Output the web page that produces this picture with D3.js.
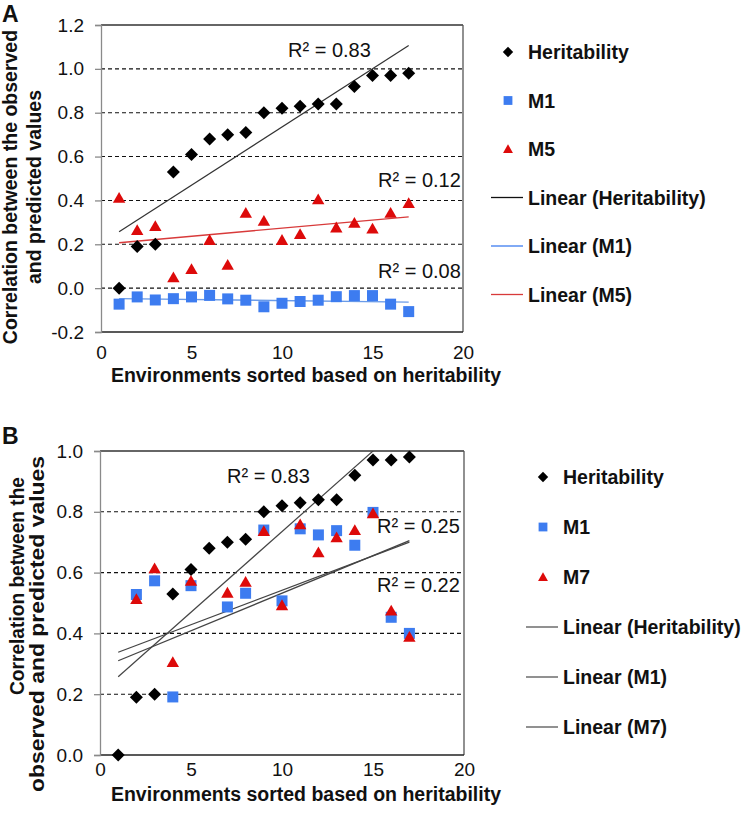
<!DOCTYPE html>
<html><head><meta charset="utf-8">
<script src="https://cdn.jsdelivr.net/npm/d3@7"></script>
<style>body{margin:0;background:#fff} svg{display:block;font-family:"Liberation Sans",Arial,sans-serif}</style>
</head><body><svg id="c" width="746" height="814"></svg>
<script>
// ---------- data ----------
const environments = d3.range(1, 18);
const heritability = [0.00,0.19,0.20,0.53,0.61,0.68,0.70,0.71,0.80,0.82,0.83,0.84,0.84,0.92,0.97,0.97,0.98];
const m1A = [-0.073,-0.040,-0.054,-0.048,-0.040,-0.033,-0.049,-0.055,-0.085,-0.069,-0.061,-0.055,-0.039,-0.034,-0.034,-0.073,-0.107];
const m5A = [0.412,0.265,0.283,0.050,0.087,0.220,0.107,0.344,0.307,0.220,0.247,0.405,0.277,0.298,0.272,0.344,0.388];
const m1B = [null,0.528,0.573,0.191,0.557,null,0.487,0.532,0.740,0.507,0.744,0.724,0.738,0.690,0.798,0.453,0.400];
const m7B = [null,0.513,0.614,0.306,0.573,null,0.534,0.570,0.737,0.493,0.759,0.667,0.716,0.740,0.795,0.475,0.389];
// fitted trend values at x = 1 and x = 17 (panel B, partly off-scale data)
const trendM1B = [0.310, 0.705];
const trendM7B = [0.338, 0.700];
const r2A = ["R² = 0.83", "R² = 0.12", "R² = 0.08"];
const r2B = ["R² = 0.83", "R² = 0.25", "R² = 0.22"];
const xTicks = [0, 5, 10, 15, 20];
const yTicksA = [-0.2, 0.0, 0.2, 0.4, 0.6, 0.8, 1.0, 1.2];
const yTicksB = [0.0, 0.2, 0.4, 0.6, 0.8, 1.0];
const legendA = ["Heritability", "M1", "M5", "Linear (Heritability)", "Linear (M1)", "Linear (M5)"];
const legendB = ["Heritability", "M1", "M7", "Linear (Heritability)", "Linear (M1)", "Linear (M7)"];
const xTitle = "Environments sorted based on heritability";
const yTitleA = ["Correlation between the observed", "and predicted values"];
const yTitleB = ["Correlation between the", "observed and predicted values"];

// ---------- helpers ----------
const svg = d3.select("#c");
const BLUE = "#3d7cf0", RED = "#dd0a0a";
const shapes = {
  diamond: "M0,-6.5L6.5,0L0,6.5L-6.5,0Z",
  square: "M-5.5,-5.5H5.5V5.5H-5.5Z",
  triangle: "M0,-5.8L6.2,5L-6.2,5Z"
};
function fit(xs, ys) {
  const pts = xs.map((x, i) => [x, ys[i]]).filter(d => d[1] != null);
  const mx = d3.mean(pts, d => d[0]), my = d3.mean(pts, d => d[1]);
  const b = d3.sum(pts, d => (d[0] - mx) * (d[1] - my)) / d3.sum(pts, d => (d[0] - mx) ** 2);
  return x => my + b * (x - mx);
}

function panel(o) {
  const g = svg.append("g");
  const x = d3.scaleLinear().domain([0, 20]).range(o.xr);
  const y = d3.scaleLinear().domain(o.yd).range(o.yr);
  const [x0, x1] = o.xr, [yb, yt] = o.yr;
  const clipId = "clip" + o.id;
  svg.append("clipPath").attr("id", clipId).append("rect")
    .attr("x", x0).attr("y", yt).attr("width", x1 - x0).attr("height", yb - yt);

  // gridlines
  g.append("g").selectAll("line").data(o.yTicks.filter(v => v !== o.yd[0] && v !== o.yd[1]))
    .join("line").attr("x1", x0).attr("x2", x1).attr("y1", d => y(d)).attr("y2", d => y(d))
    .attr("stroke", "#111").attr("stroke-width", 1.1).attr("stroke-dasharray", "4,3");
  // frame
  g.append("line").attr("x1", x0).attr("x2", x1).attr("y1", yt).attr("y2", yt).attr("stroke", "#333").attr("stroke-width", 1.3);
  g.append("line").attr("x1", x1).attr("x2", x1).attr("y1", yt).attr("y2", yb).attr("stroke", "#555").attr("stroke-width", 1.3);
  g.append("line").attr("x1", x0).attr("x2", x1).attr("y1", yb).attr("y2", yb).attr("stroke", "#222").attr("stroke-width", 1.3);

  // y axis
  const ya = d3.axisLeft(y).tickValues(o.yTicks).tickFormat(d3.format(".1f")).tickSize(6).tickPadding(11);
  const yg = g.append("g").attr("transform", `translate(${x0},0)`).call(ya);
  yg.select(".domain").attr("stroke", "#8a8a8a").attr("stroke-width", 1.3);
  yg.selectAll(".tick line").attr("stroke", "#8a8a8a").attr("stroke-width", 1.3);
  yg.selectAll("text").attr("font-size", 19).attr("fill", "#111").attr("font-family", "Liberation Sans, Arial, sans-serif")
    .text(d => d < 0 ? "-" + Math.abs(d).toFixed(1) : d.toFixed(1));

  // x axis labels
  const xa = d3.axisBottom(x).tickValues(xTicks).tickSize(0).tickPadding(o.xPad);
  const xg = g.append("g").attr("transform", `translate(0,${yb})`).call(xa);
  xg.select(".domain").remove();
  xg.selectAll("text").attr("font-size", 19).attr("fill", "#111").attr("font-family", "Liberation Sans, Arial, sans-serif");

  // titles
  g.append("text").attr("x", o.xTitleX).attr("y", o.xTitleY).attr("text-anchor", "middle")
    .attr("font-size", 19.5).attr("font-weight", "bold").attr("fill", "#111").text(xTitle);
  o.yTitle.forEach((t, i) => {
    const tt = g.append("text").attr("transform", `translate(${o.yTitleX[i]},${o.yTitleY[i]}) rotate(-90)`)
      .attr("text-anchor", "middle").attr("font-size", 19.5).attr("font-weight", "bold").attr("fill", "#111").text(t);
    if (o.yTitleLen) tt.attr("textLength", o.yTitleLen[i]).attr("lengthAdjust", "spacingAndGlyphs");
  });
  g.append("text").attr("x", 2).attr("y", o.labelY).attr("font-size", 23).attr("font-weight", "bold").attr("fill", "#111").text(o.id);

  // trend lines
  const tg = g.append("g").attr("clip-path", `url(#${clipId})`);
  o.trends.forEach(t => {
    tg.append("line").attr("x1", x(1)).attr("x2", x(17)).attr("y1", y(t.v[0])).attr("y2", y(t.v[1]))
      .attr("stroke", t.color).attr("stroke-width", t.w);
  });

  // markers
  o.series.forEach(s => {
    g.append("g").selectAll("path").data(environments.map((e, i) => [e, s.values[i]]).filter(d => d[1] != null))
      .join("path").attr("d", shapes[s.shape]).attr("fill", s.color)
      .attr("transform", d => `translate(${x(d[0])},${y(d[1])})`);
  });

  // R² labels
  o.r2.forEach((t, i) => {
    g.append("text").attr("x", o.r2pos[i][0]).attr("y", o.r2pos[i][1]).attr("font-size", 20).attr("fill", "#111").text(t);
  });

  // legend
  const lg = g.append("g");
  o.legend.forEach((t, i) => {
    const yy = o.legY + i * o.legStep;
    if (i < 3) {
      lg.append("path").attr("d", shapes[o.series[i].shape]).attr("fill", o.series[i].color)
        .attr("transform", `translate(${o.legX - 20},${yy}) scale(0.8)`);
    } else {
      lg.append("line").attr("x1", o.legX - 37).attr("x2", o.legX - 5).attr("y1", yy).attr("y2", yy)
        .attr("stroke", o.legLine[i - 3]).attr("stroke-width", 1.3);
    }
    lg.append("text").attr("x", o.legX).attr("y", yy + 7).attr("font-size", 19.5).attr("font-weight", "bold").attr("fill", "#111").text(t);
  });
}

const hFit = fit(environments, heritability);
const m1Fit = fit(environments, m1A);
const m5Fit = fit(environments, m5A);

panel({
  id: "A", xr: [101, 463], yd: [-0.2, 1.2], yr: [332, 25], yTicks: yTicksA, xPad: 14,
  xTitleX: 306, xTitleY: 382, yTitle: yTitleA, yTitleX: [17, 41], yTitleY: [187, 187], labelY: 22,
  series: [
    {values: heritability, shape: "diamond", color: "#000"},
    {values: m1A, shape: "square", color: BLUE},
    {values: m5A, shape: "triangle", color: RED}
  ],
  trends: [
    {v: [hFit(1), hFit(17)], color: "#333", w: 1.2},
    {v: [m1Fit(1), m1Fit(17)], color: "#6a9be8", w: 1.4},
    {v: [m5Fit(1), m5Fit(17)], color: "#d83a3a", w: 1.4}
  ],
  r2: r2A, r2pos: [[288, 57], [378, 187], [378, 278]],
  legend: legendA, legX: 528, legY: 52, legStep: 48.5, legLine: ["#111", BLUE, "#d83a3a"]
});

panel({
  id: "B", xr: [100, 464], yd: [0, 1.0], yr: [755, 451], yTicks: yTicksB, xPad: 8,
  xTitleX: 306, xTitleY: 801, yTitle: yTitleB, yTitleX: [24, 44], yTitleY: [586, 624], yTitleLen: [218, 336], labelY: 444,
  series: [
    {values: heritability, shape: "diamond", color: "#000"},
    {values: m1B, shape: "square", color: BLUE},
    {values: m7B, shape: "triangle", color: RED}
  ],
  trends: [
    {v: [hFit(1), hFit(17)], color: "#444", w: 1.2},
    {v: trendM1B, color: "#444", w: 1.3},
    {v: trendM7B, color: "#444", w: 1.3}
  ],
  r2: r2B, r2pos: [[227, 483], [377, 533], [377, 592]],
  legend: legendB, legX: 563, legY: 477, legStep: 50, legLine: ["#555", "#555", "#555"]
});
</script>
</body></html>
